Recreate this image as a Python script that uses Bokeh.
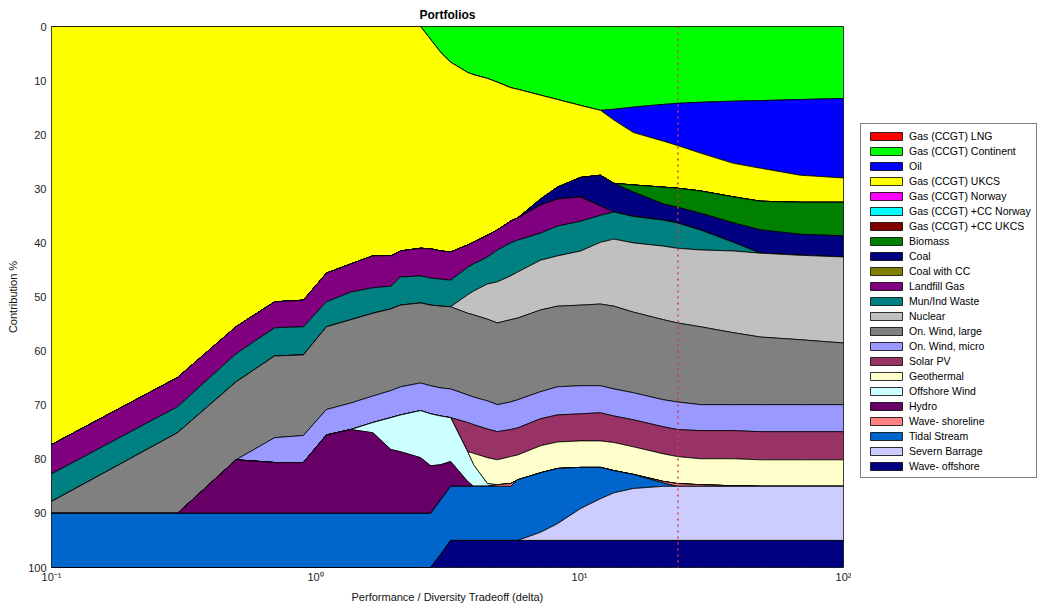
from bokeh.plotting import figure
from bokeh.layouts import row
from bokeh.models import Range1d, FixedTicker, Legend, LegendItem, Span
from bokeh.embed import file_html
from bokeh.resources import INLINE

# x positions (performance / diversity tradeoff, delta)
delta = [0.1, 0.3, 0.5, 0.7, 0.9, 1.1, 1.36, 1.65, 1.93, 2.1, 2.5, 2.73, 2.98, 3.25,
         3.77, 3.97, 4.48, 4.89, 5.48, 5.83, 7.12, 8.25, 10.1, 12.0, 13.5, 16.0,
         20.8, 23.5, 28.7, 38.3, 48.5, 68.7, 100]

names = ["Gas (CCGT) LNG", "Gas (CCGT) Continent", "Oil", "Gas (CCGT) UKCS",
         "Gas (CCGT) Norway", "Gas (CCGT) +CC Norway", "Gas (CCGT) +CC UKCS",
         "Biomass", "Coal", "Coal with CC", "Landfill Gas", "Mun/Ind Waste",
         "Nuclear", "On. Wind, large", "On. Wind, micro", "Solar PV", "Geothermal",
         "Offshore Wind", "Hydro", "Wave- shoreline", "Tidal Stream",
         "Severn Barrage", "Wave- offshore"]

colors = ["#FF0000", "#00FF00", "#0000FF", "#FFFF00", "#FF00FF", "#00FFFF",
          "#800000", "#008000", "#000080", "#808000", "#800080", "#008080",
          "#C0C0C0", "#808080", "#9999FF", "#993366", "#FFFFCC", "#CCFFFF",
          "#660066", "#FF8080", "#0066CC", "#CCCCFF", "#000080"]

# contributions in %
gas_lng = [0] * 33
gas_continent = [0, 0, 0, 0, 0, 0, 0, 0, 0, 0, 0, 2.4, 4.8, 6.6, 8.5, 8.9, 9.6, 10.3,
                 11.3, 11.6, 12.7, 13.5, 14.6, 15.5, 15.3, 14.9, 14.4, 14.2, 14.0,
                 13.8, 13.7, 13.5, 13.3]
oil = [0, 0, 0, 0, 0, 0, 0, 0, 0, 0, 0, 0, 0, 0, 0, 0, 0, 0, 0, 0, 0, 0, 0, 0,
       2.0, 4.7, 6.8, 7.8, 9.4, 11.5, 12.5, 14.0, 14.7]
gas_ukcs = [77.3, 64.9, 55.5, 50.9, 50.6, 45.6, 43.9, 42.4, 42.4, 41.5, 41.0, 38.7,
            36.7, 35.1, 31.9, 31.0, 29.0, 27.3, 24.7, 23.8, 19.2, 16.2, 13.3, 12.0,
            11.7, 9.7, 8.5, 7.9, 7.0, 6.2, 6.1, 5.0, 4.5]
gas_norway = [0] * 33
gas_cc_norway = [0] * 33
gas_cc_ukcs = [0] * 33
biomass = [0, 0, 0, 0, 0, 0, 0, 0, 0, 0, 0, 0, 0, 0, 0, 0, 0, 0, 0, 0, 0, 0, 0, 0,
           0, 1.3, 3.1, 3.5, 4.1, 4.8, 5.3, 5.9, 6.2]
coal = [0, 0, 0, 0, 0, 0, 0, 0, 0, 0, 0, 0, 0, 0, 0, 0, 0, 0, 0, 0,
        1.1, 2.2, 3.6, 5.7, 5.3, 4.5, 3.0, 2.9, 3.1, 3.6, 4.3, 3.9, 3.9]
coal_cc = [0] * 33
landfill_gas = [5.4, 5.4, 5.0, 4.8, 4.9, 5.3, 5.2, 5.9, 5.6, 4.8, 5.1, 5.4, 5.2, 5.2,
                4.1, 4.0, 4.0, 3.7, 4.0, 4.1, 5.2, 5.0, 4.5, 1.7, 0, 0, 0, 0, 0, 0,
                0, 0, 0]
mun_ind_waste = [5.1, 4.8, 5.2, 5.2, 5.2, 4.6, 5.1, 4.7, 4.2, 5.2, 5.0, 5.0, 5.0,
                 4.9, 5.1, 5.0, 5.0, 5.9, 6.1, 5.9, 5.0, 5.5, 5.5, 5.0, 5.0, 4.9,
                 4.8, 4.7, 3.7, 1.6, 0, 0, 0]
nuclear = [0, 0, 0, 0, 0, 0, 0, 0, 0, 0, 0, 0, 0, 0, 3.4, 4.4, 6.5, 7.6, 8.1, 8.5,
           9.2, 9.3, 10.0, 11.4, 12.4, 12.8, 13.6, 13.8, 14.2, 15.1, 15.5, 15.6, 15.9]
wind_large = [2.2, 14.9, 14.4, 15.1, 14.9, 15.3, 15.4, 15.3, 15.1, 15.1, 14.8, 14.9,
              15.1, 15.2, 15.1, 15.2, 15.1, 15.1, 15.2, 15.1, 15.1, 14.9, 14.9, 15.1,
              15.3, 14.9, 14.8, 14.6, 14.4, 13.3, 12.5, 12.0, 11.4]
wind_micro = [0, 0, 0, 4.6, 5.0, 4.7, 4.9, 4.9, 5.0, 5.2, 5.1, 5.2, 5.2, 5.3, 5.1,
              5.1, 5.2, 5.0, 5.1, 5.2, 5.0, 5.2, 5.2, 5.0, 5.0, 5.0, 5.0, 5.1, 4.8,
              4.8, 5.0, 5.0, 5.0]
solar_pv = [0, 0, 0, 0, 0, 0, 0, 0, 0, 0, 0, 0, 0, 0, 5.4, 5.3, 5.3, 5.2, 5.0, 5.0,
            5.0, 5.0, 5.0, 5.2, 4.9, 5.0, 5.0, 5.0, 5.2, 5.2, 5.2, 5.2, 5.2]
geothermal = [0, 0, 0, 0, 0, 0, 0, 0, 0, 0, 0, 0, 0, 0, 0, 2.1, 4.8, 4.6, 5.0, 4.6,
              5.0, 4.9, 4.9, 4.9, 5.2, 5.1, 5.1, 5.0, 4.8, 5.0, 4.9, 4.9, 4.9]
offshore_wind = [0, 0, 0, 0, 0, 0, 0, 1.9, 5.9, 6.8, 8.7, 9.6, 9.0, 8.1, 5.5, 4.0,
                 0.5, 0, 0, 0, 0, 0, 0, 0, 0, 0, 0, 0, 0, 0, 0, 0, 0]
hydro = [0, 0, 9.9, 9.4, 9.4, 14.5, 15.5, 14.9, 11.8, 11.4, 10.3, 8.8, 6.5, 4.6, 0.9,
         0, 0, 0, 0, 0, 0, 0, 0, 0, 0, 0, 0, 0, 0, 0, 0, 0, 0]
wave_shoreline = [0, 0, 0, 0, 0, 0, 0, 0, 0, 0, 0, 0, 0, 0, 0, 0, 0, 0.3, 0.5, 0,
                  0, 0, 0, 0, 0, 0, 0.3, 0.5, 0.3, 0.1, 0, 0, 0]
tidal_stream = [10, 10, 10, 10, 10, 10, 10, 10, 10, 10, 10, 10, 10.1, 10, 10, 10, 10,
                10, 10, 11.2, 11.0, 10.2, 7.6, 5.8, 4.1, 2.6, 0.6, 0, 0, 0, 0, 0, 0]
severn_barrage = [0, 0, 0, 0, 0, 0, 0, 0, 0, 0, 0, 0, 0, 0, 0, 0, 0, 0, 0, 0,
                  1.5, 3.1, 5.9, 7.7, 8.8, 9.6, 10, 10, 10, 10, 10, 10, 10]
wave_offshore = [0, 0, 0, 0, 0, 0, 0, 0, 0, 0, 0, 0, 2.4, 5, 5, 5, 5, 5, 5, 5, 5, 5,
                 5, 5, 5, 5, 5, 5, 5, 5, 5, 5, 5]

series = [gas_lng, gas_continent, oil, gas_ukcs, gas_norway, gas_cc_norway,
          gas_cc_ukcs, biomass, coal, coal_cc, landfill_gas, mun_ind_waste, nuclear,
          wind_large, wind_micro, solar_pv, geothermal, offshore_wind, hydro,
          wave_shoreline, tidal_stream, severn_barrage, wave_offshore]

chosen_delta = 23.6

FONT = "Liberation Sans"
H = 605

p = figure(width=851, height=H, x_axis_type="log",
           x_range=Range1d(0.1, 100), y_range=Range1d(100, 0),
           output_backend="svg", toolbar_location=None, title="Portfolios",
           min_border_left=51, min_border_right=8, min_border_top=26,
           min_border_bottom=37)

# legend panel (separate figure to the right of the axes)
lg = figure(width=189, height=H, output_backend="svg", toolbar_location=None,
            x_axis_location=None, y_axis_location=None,
            x_range=Range1d(0, 1), y_range=Range1d(0, 1),
            min_border_left=0, min_border_right=0, min_border_top=0,
            min_border_bottom=0)
lg.outline_line_color = None
lg.xgrid.visible = False
lg.ygrid.visible = False
lg.background_fill_color = "white"
lg.border_fill_color = "white"

top = [0.0] * len(delta)
items = []
for name, col, vals in zip(names, colors, series):
    bottom = [t + v for t, v in zip(top, vals)]
    xs = list(delta) + list(delta[::-1])
    ys = list(top) + list(bottom[::-1])
    p.patch(xs, ys, fill_color=col, line_color="black", line_width=0.8)
    # legend key glyph, placed outside the legend panel's visible range
    rk = lg.patch(x=[5, 6, 6], y=[5, 5, 6], fill_color=col, line_color="black",
                  line_width=0.8)
    items.append(LegendItem(label=name, renderers=[rk]))
    top = bottom

p.add_layout(Span(location=chosen_delta, dimension="height", line_color="#d04040",
                  line_dash="2 4", line_width=1.5))

legend = Legend(items=items, location=(9, 89))
legend.label_text_font = FONT
legend.label_text_font_size = "10.5px"
legend.label_text_color = "black"
legend.label_height = 13
legend.label_standoff = 3
legend.glyph_width = 40
legend.glyph_height = 10
legend.spacing = 2
legend.padding = 5
legend.margin = 0
legend.border_line_color = "black"
legend.border_line_width = 1
legend.background_fill_color = "white"
legend.background_fill_alpha = 1
lg.add_layout(legend)

p.title.text_font = FONT
p.title.text_font_size = "12px"
p.title.text_font_style = "bold"
p.title.text_color = "black"
p.title.align = "center"
p.title.standoff = 9

p.xgrid.visible = False
p.ygrid.visible = False
p.outline_line_color = "#404040"
p.outline_line_width = 1
p.background_fill_color = "white"
p.border_fill_color = "white"

p.xaxis.ticker = FixedTicker(ticks=[0.1, 1, 10, 100], minor_ticks=[])
p.xaxis.major_label_overrides = {0.1: "10\u207b\u00b9", 1: "10\u2070", 10: "10\u00b9", 100: "10\u00b2"}
p.yaxis.ticker = FixedTicker(ticks=[0, 10, 20, 30, 40, 50, 60, 70, 80, 90, 100], minor_ticks=[])
for ax in (p.xaxis[0], p.yaxis[0]):
    ax.major_tick_in = 0
    ax.major_tick_out = 0
    ax.minor_tick_in = 0
    ax.minor_tick_out = 0
    ax.axis_line_color = None
    ax.major_label_text_font = FONT
    ax.major_label_text_font_size = "11px"
    ax.major_label_text_color = "#222222"
    ax.axis_label_text_font = FONT
    ax.axis_label_text_font_size = "11px"
    ax.axis_label_text_font_style = "normal"
    ax.axis_label_text_color = "#111111"
p.xaxis.axis_label = "Performance / Diversity Tradeoff (delta)"
p.yaxis.axis_label = "Contribution %"
p.xaxis.major_label_standoff = 3
p.xaxis.axis_label_standoff = 5
p.yaxis.major_label_standoff = 5
p.yaxis.axis_label_standoff = 6

layout = row(p, lg, spacing=0)
open("out.html", "w").write(file_html(layout, INLINE))
